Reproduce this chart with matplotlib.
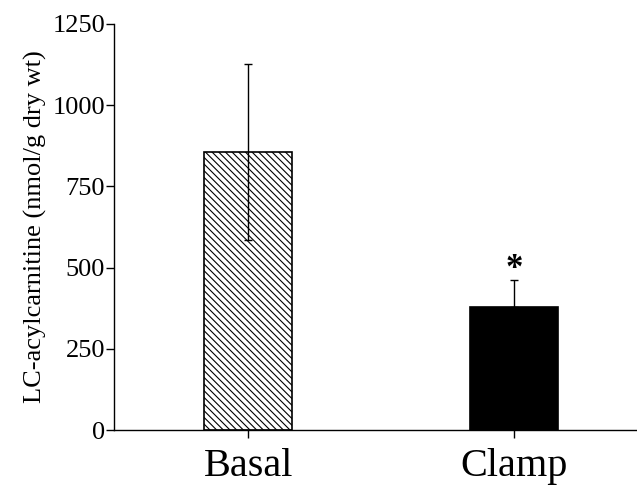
import matplotlib
matplotlib.use("Agg")
import matplotlib.pyplot as plt

categories = ["Basal", "Clamp"]
values = [856, 380]
errors = [270, 82]

plt.rcParams['font.family'] = ['Liberation Serif', 'DejaVu Serif']
plt.rcParams['hatch.linewidth'] = 0.8

fig = plt.figure(figsize=(6.37, 4.87), dpi=100)
ax = fig.add_axes([0.179, 0.117, 0.821, 0.834])

x = [0, 1]
ax.bar(x[0], values[0], width=0.331, color='white', edgecolor='black',
       hatch='\\\\\\\\\\', linewidth=1.2)
ax.bar(x[1], values[1], width=0.331, color='black', edgecolor='black', linewidth=1.2)
for xi, v, e in zip(x, values, errors):
    ax.errorbar(xi, v, yerr=[[e if xi == 0 else 0], [e]], fmt='none',
                ecolor='black', elinewidth=1.0, capsize=3, capthick=1.0)
ax.text(x[1], values[1] + errors[1] - 19, '*', ha='center', va='bottom',
        fontsize=25, fontweight='bold')

ax.set_xlim(-0.504, 1.462)
ax.set_ylim(0, 1250)
ax.set_yticks([0, 250, 500, 750, 1000, 1250])
ax.set_xticks(x)
ax.set_xticklabels(categories, fontsize=29)
ax.tick_params(axis='y', labelsize=19, length=5.5, width=1.0, direction='out', pad=1)
ax.tick_params(axis='x', length=6, width=1.0, direction='out', pad=7)
ax.set_ylabel('LC-acylcarnitine (nmol/g dry wt)', fontsize=19, labelpad=4)
for s in ['top', 'right']:
    ax.spines[s].set_visible(False)
for s in ['left', 'bottom']:
    ax.spines[s].set_linewidth(1.0)

fig.savefig('out.png', dpi=100)
